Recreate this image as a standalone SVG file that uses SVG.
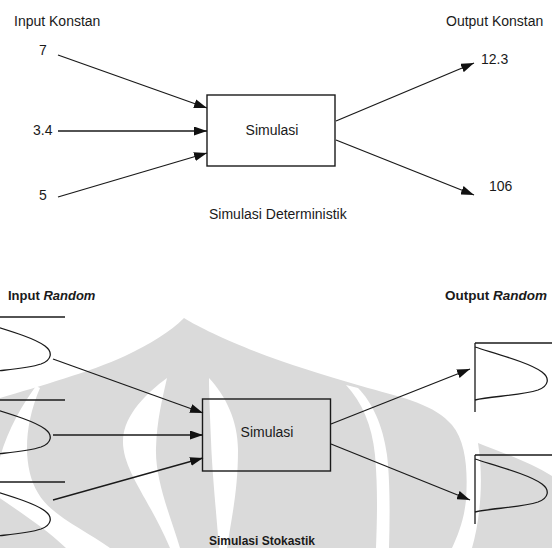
<svg xmlns="http://www.w3.org/2000/svg" xmlns:xlink="http://www.w3.org/1999/xlink" width="552" height="548" viewBox="0 0 552 548">
  <style>
    .lbl { font-family: "Liberation Sans", Arial, sans-serif; font-size: 14px; fill: #1a1a1a; }
    .hdr { font-family: "Liberation Sans", Arial, sans-serif; font-weight: bold; fill: #1a1a1a; }
    .box { fill: none; stroke: #1a1a1a; stroke-width: 1.4; }
    .edge { fill: none; stroke: #1a1a1a; stroke-width: 1.3; marker-end: url(#arrow); }
    .dist { fill: none; stroke: #1a1a1a; stroke-width: 1.3; }
    .wm { fill: #dadada; }
    .cut { fill: #ffffff; }
  </style>
  <defs>
    <marker id="arrow" markerWidth="13" markerHeight="9" refX="13" refY="4.5" orient="auto" markerUnits="userSpaceOnUse">
      <path d="M0,0 L13,4.5 L0,9 Z" fill="#111"/>
    </marker>
    <!-- sideways bell curve with its baseline bar; origin at top of the axis -->
    <g id="bell">
      <path class="dist" d="M0,0 H87"/>
      <path class="dist" d="M0,4 C25,12 55,20 67,29 C75,35 74,43 63,47 C45,53 15,53 0,57"/>
    </g>
  </defs>

  <rect width="552" height="548" fill="#ffffff"/>

  <!-- faint emblem in the background of the lower panel -->
  <g id="watermark">
    <path class="wm" d="M184,318 C200,328 230,342 267,356 C300,368 340,380 368,388 C405,398 435,405 452,425 C466,442 468,470 466,500 C464,520 458,535 452,548 L0,548 L0,398 C40,386 90,372 125,356 C150,344 170,332 184,318 Z"/>
    <path class="wm" d="M478,443 C500,452 530,462 552,476 L552,548 L472,548 C480,520 484,480 478,443 Z"/>
    <path class="cut" d="M346,385 C362,402 372,425 375,455 C378,490 377,520 376,548 L389,548 C390,515 390,480 387,455 C383,425 372,402 358,388 Z"/>
    <path class="cut" d="M167,378 C148,392 124,414 123,440 C122,470 150,500 170,548 L180,548 C170,515 155,480 156,448 C157,420 162,400 167,378 Z"/>
    <path class="cut" d="M209,378 C225,395 238,420 238,450 C238,490 232,515 227,548 L219,548 C216,510 212,470 211,440 C210,415 209,395 209,378 Z"/>
    <path class="cut" d="M36,386 C22,405 6,432 -2,465 L-2,497 C20,512 45,528 66,548 L110,548 C85,530 50,515 38,493 C24,470 22,430 40,388 Z"/>
  </g>

  <!-- upper panel: deterministic simulation -->
  <g id="det-labels">
    <text class="lbl" x="14" y="26">Input Konstan</text>
    <text class="lbl" x="446" y="26">Output Konstan</text>
    <text class="lbl" x="209" y="219">Simulasi Deterministik</text>
  </g>
  <g id="det-in-7"><text class="lbl" x="39" y="55">7</text></g>
  <g id="det-in-34"><text class="lbl" x="33" y="135">3.4</text></g>
  <g id="det-in-5"><text class="lbl" x="39" y="200">5</text></g>
  <g id="det-sim">
    <rect class="box" x="207" y="95" width="128" height="71"/>
    <text class="lbl" x="272" y="135" text-anchor="middle">Simulasi</text>
  </g>
  <g id="det-out-123"><text class="lbl" x="481" y="64">12.3</text></g>
  <g id="det-out-106"><text class="lbl" x="489" y="191">106</text></g>

  <!-- lower panel: stochastic simulation -->
  <g id="sto-labels">
    <text class="hdr" x="8" y="300" font-size="13">Input <tspan font-style="italic">Random</tspan></text>
    <text class="hdr" x="445" y="300" font-size="13.5">Output <tspan font-style="italic">Random</tspan></text>
    <text class="hdr" x="209" y="545" font-size="12">Simulasi Stokastik</text>
  </g>
  <g id="sto-in-1"><use xlink:href="#bell" x="-22" y="317"/></g>
  <g id="sto-in-2"><use xlink:href="#bell" x="-22" y="400"/></g>
  <g id="sto-in-3"><use xlink:href="#bell" x="-22" y="482"/></g>
  <g id="sto-sim">
    <rect class="box" x="202.5" y="399" width="128" height="72"/>
    <text class="lbl" x="267" y="437" text-anchor="middle">Simulasi</text>
  </g>
  <g id="sto-out-1">
    <use xlink:href="#bell" x="475" y="343"/>
    <path class="dist" d="M475,343 V412"/>
  </g>
  <g id="sto-out-2">
    <use xlink:href="#bell" x="475" y="455"/>
    <path class="dist" d="M475,455 V524"/>
  </g>

  <g id="connectors">
    <line class="edge" x1="58" y1="55" x2="207" y2="108"/>
    <line class="edge" x1="58" y1="131" x2="207" y2="131"/>
    <line class="edge" x1="58" y1="197" x2="207" y2="153"/>
    <line class="edge" x1="336" y1="121" x2="474" y2="63"/>
    <line class="edge" x1="336" y1="140" x2="474" y2="195"/>
    <line class="edge" x1="53" y1="359" x2="203" y2="413"/>
    <line class="edge" x1="53" y1="435" x2="203" y2="435"/>
    <line class="edge" x1="53" y1="500" x2="203" y2="458"/>
    <line class="edge" x1="331" y1="424" x2="470" y2="369"/>
    <line class="edge" x1="331" y1="444" x2="470" y2="500"/>
  </g>
</svg>
